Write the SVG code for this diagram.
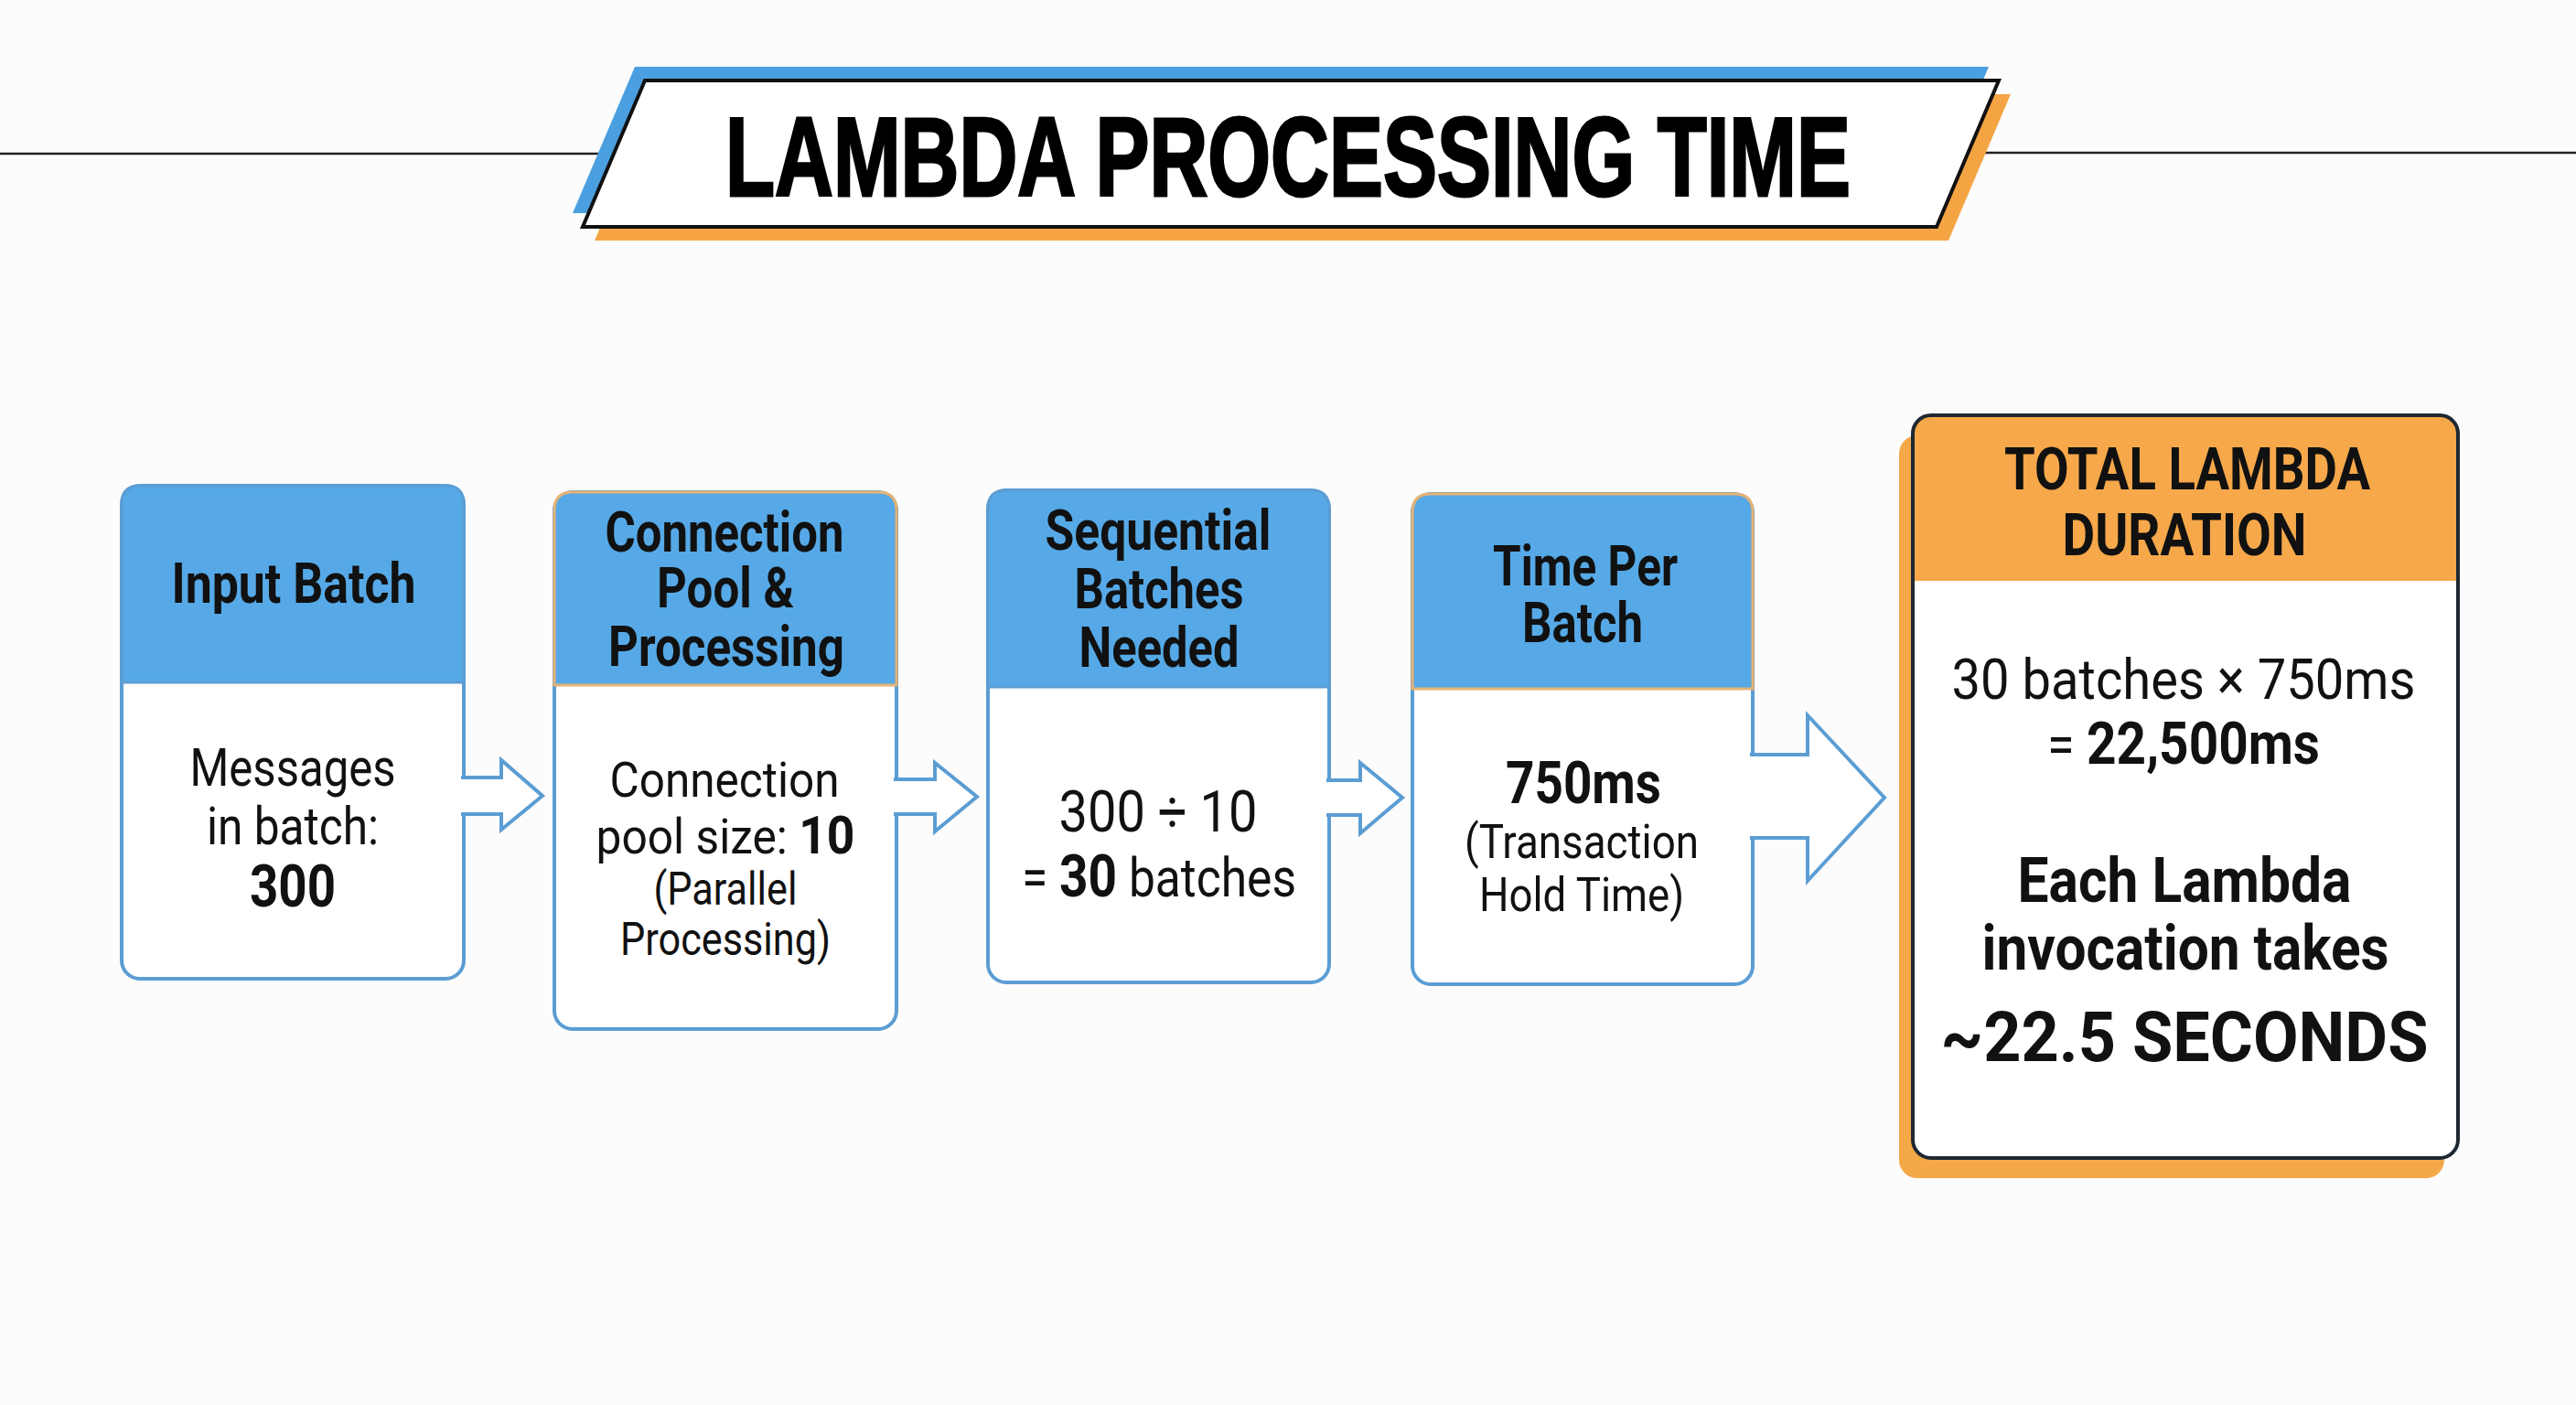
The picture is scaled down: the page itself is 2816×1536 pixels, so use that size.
<svg xmlns="http://www.w3.org/2000/svg" width="2816" height="1536" viewBox="0 0 2816 1536">
<style>
.hd{font-family:Roboto,"Liberation Sans",sans-serif;font-weight:700;font-size:62px;fill:#111;text-anchor:middle}
.bd{font-family:Roboto,"Liberation Sans",sans-serif;font-weight:400;font-size:57px;fill:#111;text-anchor:middle}
.b{font-weight:700}
.body{fill:#fff;stroke:#5B9DD3;stroke-width:4}
.head{fill:#56A9E6;stroke:#5B9DD3;stroke-width:3}
.heado{fill:#56A9E6;stroke:#E6B274;stroke-width:3}
.arrow{fill:#fff;stroke:#5B9DD3;stroke-width:4;stroke-linejoin:miter}
</style>
<rect width="2816" height="1536" fill="#FCFCFC"/>
<g id="title">
<line x1="0" y1="168" x2="660" y2="168" stroke="#222" stroke-width="2.5"/>
<line x1="2160" y1="167" x2="2816" y2="167" stroke="#222" stroke-width="2.5"/>
<polygon points="694,73 2174,73 2106,233 626,233" fill="#4A9FE0"/>
<polygon points="718,103 2198,103 2130,263 650,263" fill="#F5A444"/>
<polygon points="705,88 2185,88 2117,248 637,248" fill="#fff" stroke="#111" stroke-width="4"/>
<text x="1408" y="214" font-family="'Liberation Sans',Arial,sans-serif" font-weight="700" font-size="122" text-anchor="middle" textLength="1230" lengthAdjust="spacingAndGlyphs" fill="#000" stroke="#000" stroke-width="3">LAMBDA PROCESSING TIME</text>
</g>
<g id="node-input-batch">
<rect class="body" x="133" y="531" width="374" height="539" rx="20"/>
<path class="head" d="M133,746 V551 Q133,531 153,531 H487 Q507,531 507,551 V746 Z"/>
<text class="hd" x="321" y="659" textLength="267" lengthAdjust="spacingAndGlyphs">Input Batch</text>
<text class="bd" x="320" y="859" textLength="225" lengthAdjust="spacingAndGlyphs">Messages</text>
<text class="bd" x="320" y="923" textLength="188" lengthAdjust="spacingAndGlyphs">in batch:</text>
<text class="bd b" x="320" y="991" style="font-size:64px" textLength="94" lengthAdjust="spacingAndGlyphs">300</text>
</g>
<g id="node-connection-pool">
<rect class="body" x="606" y="538" width="374" height="587" rx="20"/>
<path class="heado" d="M606,749 V558 Q606,538 626,538 H960 Q980,538 980,558 V749 Z"/>
<text class="hd" x="792" y="603" textLength="261" lengthAdjust="spacingAndGlyphs">Connection</text>
<text class="hd" x="793" y="664" textLength="150" lengthAdjust="spacingAndGlyphs">Pool &amp;</text>
<text class="hd" x="794" y="728" textLength="258" lengthAdjust="spacingAndGlyphs">Processing</text>
<text class="bd" x="792" y="871" style="font-size:54px" textLength="251" lengthAdjust="spacingAndGlyphs">Connection</text>
<text class="bd" x="793" y="933" style="font-size:54px" textLength="283" lengthAdjust="spacingAndGlyphs">pool size: <tspan class="b" style="font-size:58px">10</tspan></text>
<text class="bd" x="793" y="989" style="font-size:50px" textLength="157" lengthAdjust="spacingAndGlyphs">(Parallel</text>
<text class="bd" x="793" y="1044" style="font-size:50px" textLength="230" lengthAdjust="spacingAndGlyphs">Processing)</text>
</g>
<g id="node-sequential-batches">
<rect class="body" x="1080" y="536" width="373" height="538" rx="20"/>
<path class="head" d="M1080,751 V556 Q1080,536 1100,536 H1433 Q1453,536 1453,556 V751 Z"/>
<text class="hd" x="1266" y="601" textLength="247" lengthAdjust="spacingAndGlyphs">Sequential</text>
<text class="hd" x="1267" y="665" textLength="185" lengthAdjust="spacingAndGlyphs">Batches</text>
<text class="hd" x="1267" y="729" textLength="175" lengthAdjust="spacingAndGlyphs">Needed</text>
<text class="bd" x="1266" y="909" style="font-size:63px" textLength="217" lengthAdjust="spacingAndGlyphs">300 ÷ 10</text>
<text class="bd" x="1267" y="980" style="font-size:60px" textLength="300" lengthAdjust="spacingAndGlyphs">= <tspan class="b" style="font-size:64px">30</tspan> batches</text>
</g>
<g id="node-time-per-batch">
<rect class="body" x="1544" y="540" width="372" height="536" rx="20"/>
<path class="heado" d="M1544,753 V560 Q1544,540 1564,540 H1896 Q1916,540 1916,560 V753 Z"/>
<text class="hd" x="1733" y="640" textLength="202" lengthAdjust="spacingAndGlyphs">Time Per</text>
<text class="hd" x="1730" y="702" textLength="132" lengthAdjust="spacingAndGlyphs">Batch</text>
<text class="bd b" x="1731" y="878" style="font-size:64px" textLength="170" lengthAdjust="spacingAndGlyphs">750ms</text>
<text class="bd" x="1729" y="938" style="font-size:52px" textLength="256" lengthAdjust="spacingAndGlyphs">(Transaction</text>
<text class="bd" x="1729" y="996" style="font-size:52px" textLength="224" lengthAdjust="spacingAndGlyphs">Hold Time)</text>
</g>
<g id="node-total-duration">
<rect x="2076" y="476" width="596" height="812" rx="20" fill="#F5A848"/>
<rect x="2091" y="454" width="596" height="812" rx="20" fill="#fff"/>
<path d="M2091,635 V474 Q2091,454 2111,454 H2667 Q2687,454 2687,474 V635 Z" fill="#F6A84A"/>
<rect x="2091" y="454" width="596" height="812" rx="20" fill="none" stroke="#1E2833" stroke-width="4"/>
<text class="hd" x="2391" y="535" style="font-size:64px" textLength="400" lengthAdjust="spacingAndGlyphs">TOTAL LAMBDA</text>
<text class="hd" x="2388" y="607" style="font-size:64px" textLength="267" lengthAdjust="spacingAndGlyphs">DURATION</text>
<text class="bd" x="2387" y="764" style="font-size:61px" textLength="507" lengthAdjust="spacingAndGlyphs">30 batches × 750ms</text>
<text class="bd" x="2387" y="835" style="font-size:61px" textLength="298" lengthAdjust="spacingAndGlyphs">= <tspan class="b" style="font-size:64px">22,500ms</tspan></text>
<text class="bd b" x="2388" y="986" style="font-size:69px" textLength="365" lengthAdjust="spacingAndGlyphs">Each Lambda</text>
<text class="bd b" x="2389" y="1060" style="font-size:69px" textLength="445" lengthAdjust="spacingAndGlyphs">invocation takes</text>
<text class="bd b" x="2388" y="1160" style="font-size:76px" textLength="533" lengthAdjust="spacingAndGlyphs">~22.5 SECONDS</text>
</g>
<g id="connectors">
<path class="arrow" d="M504,850 H548 V831 L593,870 L548,907 V890 H504"/>
<path class="arrow" d="M977,852 H1022 V834 L1068,871 L1022,909 V890 H977"/>
<path class="arrow" d="M1450,853 H1487 V834 L1533,872 L1487,911 V891 H1450"/>
<path class="arrow" d="M1913,825 H1976 V782 L2060,872 L1976,963 V916 H1913"/>
</g>
</svg>
